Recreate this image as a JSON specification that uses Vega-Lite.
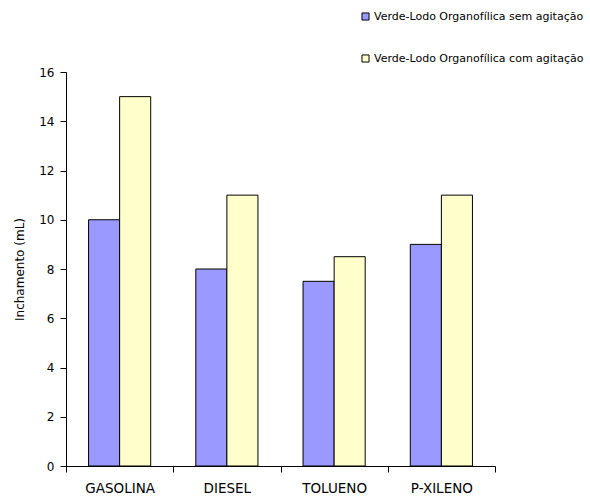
{
  "$schema": "https://vega.github.io/schema/vega-lite/v6.json",
  "width": 429,
  "height": 394,
  "autosize": "none",
  "padding": {"left": 66, "top": 72, "right": 95, "bottom": 31},
  "background": "white",
  "data": {
    "values": [
      {"solvente": "GASOLINA", "serie": "Verde-Lodo Organofílica sem agitação", "inchamento": 10},
      {"solvente": "GASOLINA", "serie": "Verde-Lodo Organofílica com agitação", "inchamento": 15},
      {"solvente": "DIESEL", "serie": "Verde-Lodo Organofílica sem agitação", "inchamento": 8},
      {"solvente": "DIESEL", "serie": "Verde-Lodo Organofílica com agitação", "inchamento": 11},
      {"solvente": "TOLUENO", "serie": "Verde-Lodo Organofílica sem agitação", "inchamento": 7.5},
      {"solvente": "TOLUENO", "serie": "Verde-Lodo Organofílica com agitação", "inchamento": 8.5},
      {"solvente": "P-XILENO", "serie": "Verde-Lodo Organofílica sem agitação", "inchamento": 9},
      {"solvente": "P-XILENO", "serie": "Verde-Lodo Organofílica com agitação", "inchamento": 11}
    ]
  },
  "mark": {"type": "bar", "stroke": "black", "strokeWidth": 1},
  "encoding": {
    "x": {
      "field": "solvente",
      "type": "nominal",
      "sort": ["GASOLINA", "DIESEL", "TOLUENO", "P-XILENO"],
      "scale": {"paddingInner": 0, "paddingOuter": 0},
      "axis": {
        "title": null,
        "labelAngle": 0,
        "tickBand": "extent",
        "domainColor": "black",
        "tickColor": "black",
        "tickSize": 6,
        "labelFont": "DejaVu Sans",
        "labelFontSize": 13.5,
        "labelColor": "black",
        "labelPadding": 9
      }
    },
    "xOffset": {
      "field": "serie",
      "type": "nominal",
      "sort": ["Verde-Lodo Organofílica sem agitação", "Verde-Lodo Organofílica com agitação"],
      "scale": {"paddingInner": 0, "paddingOuter": 0.726}
    },
    "y": {
      "field": "inchamento",
      "type": "quantitative",
      "scale": {"domain": [0, 16], "nice": false},
      "axis": {
        "title": "Inchamento (mL)",
        "titleFont": "DejaVu Sans",
        "titleFontSize": 12,
        "titleFontWeight": "normal",
        "titleColor": "black",
        "titlePadding": 12,
        "values": [0, 2, 4, 6, 8, 10, 12, 14, 16],
        "grid": false,
        "domainColor": "black",
        "tickColor": "black",
        "tickSize": 6,
        "labelFont": "DejaVu Sans",
        "labelFontSize": 12,
        "labelColor": "black",
        "labelPadding": 6
      }
    },
    "fill": {
      "field": "serie",
      "type": "nominal",
      "sort": ["Verde-Lodo Organofílica sem agitação", "Verde-Lodo Organofílica com agitação"],
      "scale": {
        "domain": ["Verde-Lodo Organofílica sem agitação", "Verde-Lodo Organofílica com agitação"],
        "range": ["#9999FF", "#FFFFCC"]
      },
      "legend": {
        "title": null,
        "orient": "none",
        "legendX": 294,
        "legendY": -61,
        "symbolType": "square",
        "symbolSize": 50,
        "symbolStrokeColor": "black",
        "symbolStrokeWidth": 1,
        "symbolOpacity": 1,
        "labelFont": "DejaVu Sans",
        "labelFontSize": 11,
        "labelLimit": 0,
        "labelColor": "black",
        "labelOffset": 3,
        "rowPadding": 29
      }
    }
  },
  "config": {
    "view": {"stroke": null},
    "axis": {"domainWidth": 1, "tickWidth": 1}
  }
}
